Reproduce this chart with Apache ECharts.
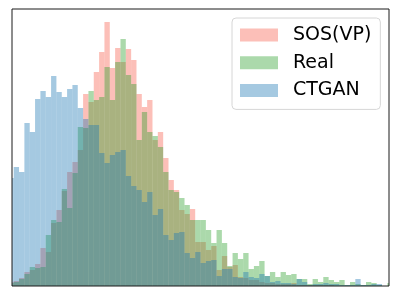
<!DOCTYPE html>
<html>
<head>
<meta charset="utf-8">
<script src="https://cdn.jsdelivr.net/npm/echarts@6/dist/echarts.min.js"></script>
<style>
html,body{margin:0;padding:0;background:#fff;}
#chart{width:399px;height:299px;}
</style>
</head>
<body>
<div id="chart"></div>
<script>
// Histogram bin counts (arbitrary units), 72 equal-width bins, left to right
const seriesNames = ["SOS(VP)", "Real", "CTGAN"];
const sosVP = [4,5,8,14,16,22,38,34,63,76,95,114,124,136,192,184,214,234,264,218,238,224,237,226,192,179,186,146,154,128,106,96,76,72,77,44,44,36,40,16,30,19,21,9,8,6,6,4,3,3,2,2,2,3,1,1,1,1,1,1,1,0,0,0,0,0,0,0,0,0,0,0];
const real = [3,4,7,12,19,18,19,51,66,64,97,78,113,159,158,195,186,189,219,186,224,247,211,202,146,174,154,150,139,114,96,94,88,81,66,66,66,56,43,56,43,20,33,27,33,17,20,25,10,14,9,14,11,12,7,7,2,7,4,9,6,4,6,1,4,2,1,4,3,1,0,3];
const ctgan = [108,119,114,163,154,187,195,189,210,194,189,197,201,178,167,161,161,133,123,131,134,136,110,100,96,84,94,71,77,51,46,53,54,33,28,34,23,25,26,10,17,17,9,8,14,9,8,12,10,4,5,3,3,2,7,4,1,2,2,3,2,2,1,1,1,7,1,1,2,2,0,0];

const colors = ["rgba(250,128,114,0.5)", "rgba(44,160,44,0.4)", "rgba(31,119,180,0.4)"];
const allData = [sosVP, real, ctgan];

function renderBin(params, api) {
  const left = api.value(0);
  const top = api.coord([left, api.value(1)]);
  const bottomRight = api.coord([left + 1, 0]);
  const cs = params.coordSys;
  const rect = echarts.graphic.clipRectByRect(
    {x: top[0], y: top[1], width: bottomRight[0] - top[0], height: bottomRight[1] - top[1]},
    {x: cs.x, y: cs.y, width: cs.width, height: cs.height}
  );
  return rect && {type: 'rect', shape: rect, style: {fill: api.visual('color')}};
}

const chart = echarts.init(document.getElementById('chart'), null, {renderer: 'canvas'});
chart.setOption({
  animation: false,
  grid: {left: 12, top: 9, width: 377, height: 277, show: true, borderColor: '#1a1a1a', borderWidth: 1, backgroundColor: 'transparent', z: 5},
  xAxis: {type: 'value', min: 0.68, max: 71.31, axisLine: {show: false}, axisTick: {show: false}, axisLabel: {show: false}, splitLine: {show: false}},
  yAxis: {type: 'value', min: 0, max: 277, axisLine: {show: false}, axisTick: {show: false}, axisLabel: {show: false}, splitLine: {show: false}},
  legend: {
    orient: 'vertical', left: 232, top: 18,
    data: seriesNames,
    icon: 'rect', itemWidth: 38, itemHeight: 13, itemGap: 8.7,
    padding: [7.5, 9, 9.5, 8],
    borderColor: '#d6d6d6', borderWidth: 1, borderRadius: 4,
    backgroundColor: 'rgba(255,255,255,0.8)',
    textStyle: {fontFamily: 'DejaVu Sans', fontSize: 19, color: '#000', lineHeight: 19, padding: [0, 0, 0, 10]}
  },
  series: seriesNames.map((name, s) => ({
    name: name, type: 'custom', renderItem: renderBin,
    itemStyle: {color: colors[s]},
    silent: true,
    encode: {x: 0, y: 1},
    data: allData[s].map((v, i) => [i, v])
  }))
});
</script>
</body>
</html>
